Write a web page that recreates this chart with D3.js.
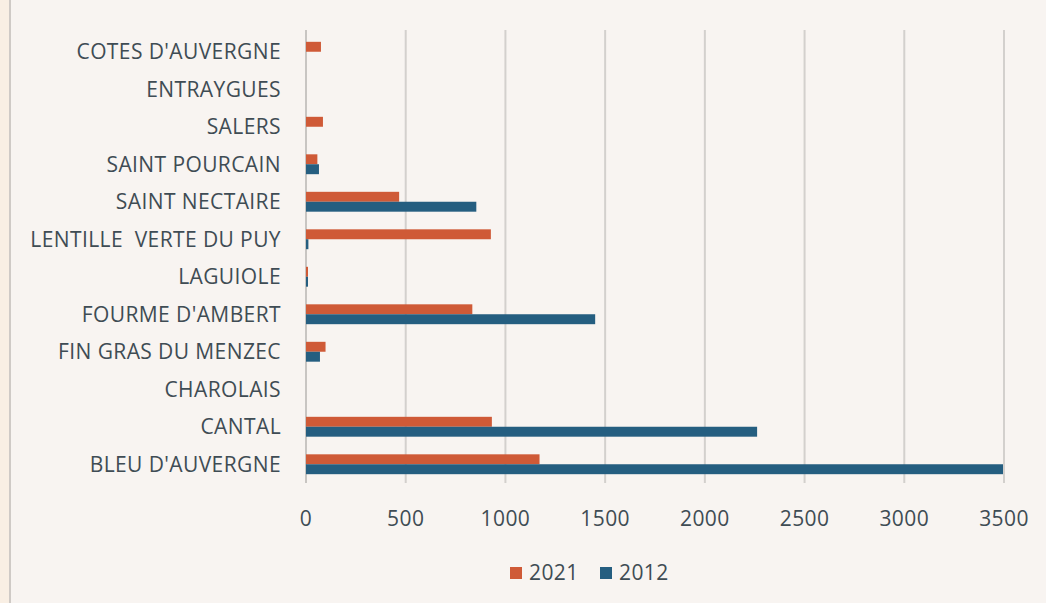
<!DOCTYPE html>
<html><head><meta charset="utf-8">
<script src="https://cdn.jsdelivr.net/npm/d3@7"></script>
<style>
html,body{margin:0;padding:0;background:#f8f4f1;}
svg{display:block;}
text{font-family:"Open Sans",Lato,sans-serif;fill:#3f4c54;white-space:pre;letter-spacing:0.4px;}
</style></head><body>
<script>
const categories = ["COTES D'AUVERGNE","ENTRAYGUES","SALERS","SAINT POURCAIN","SAINT NECTAIRE","LENTILLE  VERTE DU PUY","LAGUIOLE","FOURME D'AMBERT","FIN GRAS DU MENZEC","CHAROLAIS","CANTAL","BLEU D'AUVERGNE"];
const values2021 = [75,0,85,57,467,927,10,834,98,0,932,1171];
const values2012 = [0,0,0,65,854,12,10,1450,70,0,2262,3495];
const seriesNames = ["2021","2012"];
const seriesColors = ["#cf5a37","#255e80"];
const tickValues = [0,500,1000,1500,2000,2500,3000,3500];

const W=1046,H=603;
const svg=d3.select("body").append("svg").attr("width",W).attr("height",H);
svg.append("rect").attr("width",W).attr("height",H).attr("fill","#f8f4f1");
svg.append("rect").attr("x",0).attr("y",0).attr("width",9).attr("height",H).attr("fill","#f9efe4");
svg.append("rect").attr("x",9).attr("y",0).attr("width",2).attr("height",H).attr("fill","#cfcac6");

const x=d3.scaleLinear().domain([0,3500]).range([306,1004]);
const y=d3.scaleBand().domain(categories).range([33,483]).paddingInner(0.47).paddingOuter(0.235);
const sub=d3.scaleBand().domain(seriesNames).range([0,y.bandwidth()]);

// gridlines
svg.append("g").selectAll("line").data(tickValues.slice(1)).join("line")
  .attr("x1",d=>x(d)).attr("x2",d=>x(d)).attr("y1",30).attr("y2",483)
  .attr("stroke","#d3d0cd").attr("stroke-width",2);
svg.append("line").attr("x1",x(0)).attr("x2",x(0)).attr("y1",30).attr("y2",483)
  .attr("stroke","#c8c5c2").attr("stroke-width",2);

const data = categories.map((c,i)=>({c,vals:[values2021[i],values2012[i]]}));
const groups=svg.append("g").selectAll("g").data(data).join("g")
  .attr("transform",d=>`translate(0,${y(d.c)})`);
groups.selectAll("rect").data(d=>d.vals.map((v,j)=>({v,s:seriesNames[j],j}))).join("rect")
  .attr("x",x(0)).attr("y",d=>sub(d.s)).attr("height",sub.bandwidth())
  .attr("width",d=>x(d.v)-x(0)).attr("fill",d=>seriesColors[d.j]);

// y labels
svg.append("g").selectAll("text").data(categories).join("text")
  .attr("x",281).attr("y",d=>y(d)+y.bandwidth()/2).attr("dy","0.35em")
  .attr("text-anchor","end").attr("font-size",21).text(d=>d);

// x tick labels
svg.append("g").selectAll("text").data(tickValues).join("text")
  .attr("x",d=>x(d)).attr("y",519).attr("dy","0.35em")
  .attr("text-anchor","middle").attr("font-size",21).text(d=>d);

// legend
const leg=svg.append("g");
const legX=[510,600];
seriesNames.forEach((s,i)=>{
  leg.append("rect").attr("x",legX[i]).attr("y",567).attr("width",12).attr("height",12).attr("fill",seriesColors[i]);
  leg.append("text").attr("x",legX[i]+19).attr("y",573).attr("dy","0.35em").attr("font-size",21).text(s);
});
</script>
</body></html>
